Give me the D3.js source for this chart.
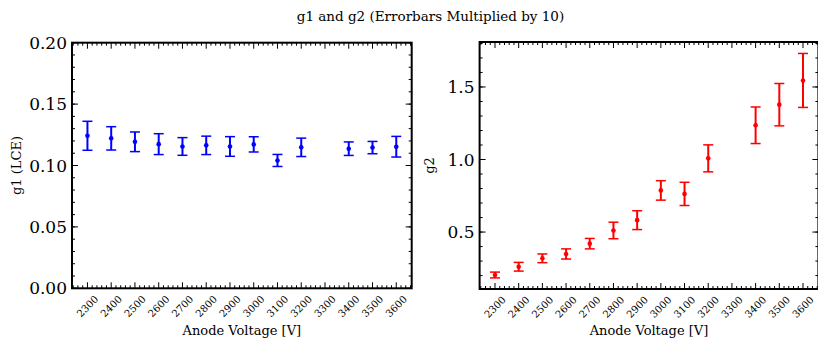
<!DOCTYPE html>
<html>
<head>
<meta charset="utf-8">
<script src="https://cdn.jsdelivr.net/npm/d3@7"></script>
<style>
  body { margin: 0; background: #fff; }
  text { font-family: "DejaVu Serif", serif; fill: #000; }
</style>
</head>
<body>
<div id="chart"></div>
<script>
// anode voltages (no point at 3300)
const voltages = [2300, 2400, 2500, 2600, 2700, 2800, 2900, 3000, 3100, 3200, 3400, 3500, 3600];
const g1 = [0.1242, 0.1221, 0.1193, 0.1174, 0.1155, 0.1164, 0.1155, 0.1172, 0.1041, 0.1148, 0.1137, 0.1146, 0.1153];
const g1Err = [0.0118, 0.0095, 0.0080, 0.0085, 0.0072, 0.0075, 0.0080, 0.0062, 0.0049, 0.0075, 0.0055, 0.0050, 0.0084];
const g2 = [0.204, 0.261, 0.319, 0.349, 0.420, 0.511, 0.582, 0.787, 0.763, 1.008, 1.236, 1.378, 1.545];
const g2Err = [0.020, 0.030, 0.030, 0.035, 0.036, 0.057, 0.065, 0.067, 0.080, 0.093, 0.126, 0.146, 0.186];
const xTicks = [2300, 2400, 2500, 2600, 2700, 2800, 2900, 3000, 3100, 3200, 3300, 3400, 3500, 3600];
const g1Ticks = [0.00, 0.05, 0.10, 0.15, 0.20];
const g2Ticks = [0.5, 1.0, 1.5];

const width = 818, height = 338;
const svg = d3.select("#chart").append("svg")
  .attr("width", width)
  .attr("height", height);

svg.append("text")
  .attr("x", 430.5)
  .attr("y", 21)
  .attr("text-anchor", "middle")
  .style("font-size", "13.5px")
  .text("g1 and g2 (Errorbars Multiplied by 10)");

function drawPanel(opt) {
  const x = d3.scaleLinear().domain([2235, 3665]).range([opt.left, opt.right]);
  const y = d3.scaleLinear().domain(opt.yDomain).range([opt.bottom, opt.top]);
  const g = svg.append("g");

  const xMinor = d3.range(2240, 3665, 20).filter(v => v % 100 !== 0);
  const yMinor = opt.yMinor.filter(v => y(v) <= opt.bottom + 0.1 && y(v) >= opt.top - 0.1);

  // inward ticks on all four sides
  const tickLines = [];
  xMinor.forEach(v => tickLines.push({ v: v, len: 3 }));
  xTicks.forEach(v => tickLines.push({ v: v, len: 6 }));
  tickLines.forEach(t => {
    g.append("line").attr("x1", x(t.v)).attr("x2", x(t.v))
      .attr("y1", opt.bottom).attr("y2", opt.bottom - t.len).attr("stroke", "#000");
    g.append("line").attr("x1", x(t.v)).attr("x2", x(t.v))
      .attr("y1", opt.top).attr("y2", opt.top + t.len).attr("stroke", "#000");
  });
  const yLines = [];
  yMinor.forEach(v => yLines.push({ v: v, len: 3 }));
  opt.yTicks.forEach(v => yLines.push({ v: v, len: 6 }));
  yLines.forEach(t => {
    g.append("line").attr("y1", y(t.v)).attr("y2", y(t.v))
      .attr("x1", opt.left).attr("x2", opt.left + t.len).attr("stroke", "#000");
    g.append("line").attr("y1", y(t.v)).attr("y2", y(t.v))
      .attr("x1", opt.right).attr("x2", opt.right - t.len).attr("stroke", "#000");
  });

  // frame
  g.append("rect")
    .attr("x", opt.left).attr("y", opt.top)
    .attr("width", opt.right - opt.left).attr("height", opt.bottom - opt.top)
    .attr("fill", "none").attr("stroke", "#000").attr("stroke-width", 2);

  // tick labels
  g.selectAll(".ylab").data(opt.yTicks).enter().append("text")
    .attr("x", opt.left - 5)
    .attr("y", d => y(d) + 6)
    .attr("text-anchor", "end")
    .style("font-size", "17px")
    .text(d => d3.format(opt.yFormat)(d));

  g.selectAll(".xlab").data(xTicks).enter().append("text")
    .attr("transform", d => "translate(" + (x(d) + 2.5) + "," + (opt.bottom + 20.5) + ") rotate(-45)")
    .attr("text-anchor", "middle")
    .style("font-size", "10px")
    .text(d => d);

  g.append("text")
    .attr("x", (opt.left + opt.right) / 2)
    .attr("y", 334.5)
    .attr("text-anchor", "middle")
    .style("font-size", "13px")
    .text("Anode Voltage [V]");

  g.append("text")
    .attr("transform", "translate(" + opt.yLabelX + "," + (opt.top + opt.bottom) / 2 + ") rotate(-90)")
    .attr("text-anchor", "middle")
    .style("font-size", "13px")
    .text(opt.yLabel);

  // error bars
  const pts = voltages.map((v, i) => ({ v: v, val: opt.values[i], err: opt.errors[i] }));
  const bars = g.selectAll(".bar").data(pts).enter().append("g");
  bars.append("line")
    .attr("x1", d => x(d.v)).attr("x2", d => x(d.v))
    .attr("y1", d => y(d.val - d.err)).attr("y2", d => y(d.val + d.err))
    .attr("stroke", opt.color).attr("stroke-width", 2);
  [-1, 1].forEach(s => {
    bars.append("line")
      .attr("x1", d => x(d.v) - 5).attr("x2", d => x(d.v) + 5)
      .attr("y1", d => y(d.val + s * d.err)).attr("y2", d => y(d.val + s * d.err))
      .attr("stroke", opt.color).attr("stroke-width", 1.5);
  });
  bars.append("circle")
    .attr("cx", d => x(d.v)).attr("cy", d => y(d.val))
    .attr("r", 2.3)
    .attr("fill", opt.color);
}

drawPanel({
  left: 72, right: 411.7, top: 42.7, bottom: 288.3,
  yDomain: [0, 0.2], yTicks: g1Ticks, yMinor: d3.range(0, 0.2001, 0.01), yFormat: ".2f",
  values: g1, errors: g1Err, color: "#0000ff",
  yLabel: "g1 (LCE)", yLabelX: 20.5
});

drawPanel({
  left: 479.6, right: 818.4, top: 42, bottom: 289,
  yDomain: [0.1075, 1.81], yTicks: g2Ticks, yMinor: d3.range(0.2, 1.81, 0.1), yFormat: ".1f",
  values: g2, errors: g2Err, color: "#ff0000",
  yLabel: "g2", yLabelX: 434
});
</script>
</body>
</html>
